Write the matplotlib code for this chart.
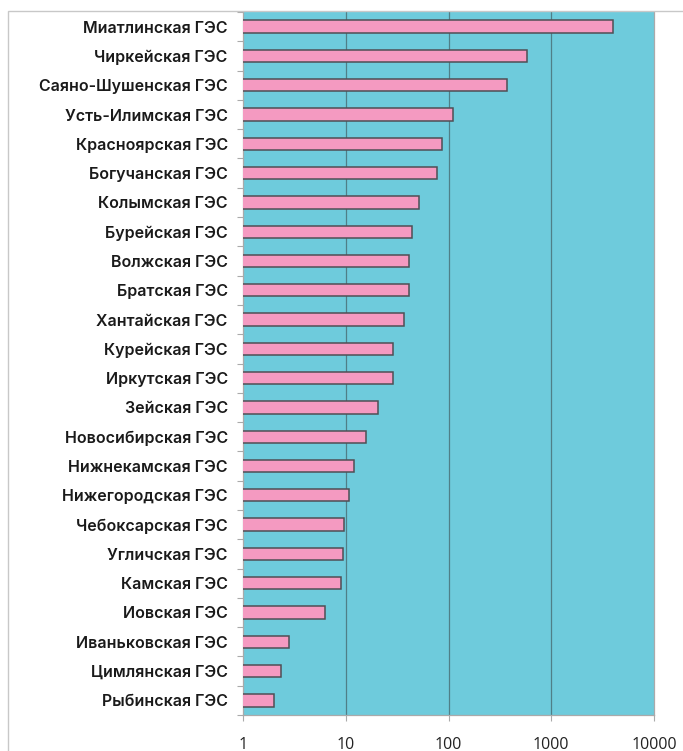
import matplotlib
matplotlib.use("Agg")
import matplotlib.pyplot as plt
import numpy as np
from matplotlib.patches import Rectangle

stations = [
    "Миатлинская ГЭС", "Чиркейская ГЭС", "Саяно-Шушенская ГЭС", "Усть-Илимская ГЭС",
    "Красноярская ГЭС", "Богучанская ГЭС", "Колымская ГЭС", "Бурейская ГЭС",
    "Волжская ГЭС", "Братская ГЭС", "Хантайская ГЭС", "Курейская ГЭС",
    "Иркутская ГЭС", "Зейская ГЭС", "Новосибирская ГЭС", "Нижнекамская ГЭС",
    "Нижегородская ГЭС", "Чебоксарская ГЭС", "Угличская ГЭС", "Камская ГЭС",
    "Иовская ГЭС", "Иваньковская ГЭС", "Цимлянская ГЭС", "Рыбинская ГЭС",
]
values = [4000, 577, 368, 111, 87, 77, 52, 44, 41, 41, 37, 28.6, 28.6, 20.5,
          15.6, 12.0, 10.7, 9.7, 9.5, 9.0, 6.3, 2.8, 2.34, 2.0]
xticks = [1, 10, 100, 1000, 10000]
xtick_labels = ["1", "10", "100", "1000", "10000"]

W, H = 683, 751
fig = plt.figure(figsize=(W / 100, H / 100), dpi=100)
fig.patch.set_facecolor("white")

# outer chart-area border
fig.add_artist(Rectangle((8 / W, -0.02), 1.2, 1 - 11 / H + 0.02,
                         transform=fig.transFigure, fill=False,
                         edgecolor="#c8c8c8", linewidth=1.0))

ax = fig.add_axes([243 / W, 1 - 715 / H, 411 / W, 703 / H])
ax.set_facecolor("#6ecbdc")
y = np.arange(len(stations))
ax.barh(y, values, height=0.42, left=0, color="#f49ac1",
        edgecolor="#4f4f55", linewidth=1.1, zorder=3)
ax.set_xscale("log")
ax.set_xlim(1, 10000)
ax.set_ylim(len(stations) - 0.5, -0.5)

ax.set_xticks(xticks)
ax.set_xticklabels(xtick_labels, fontsize=11.5, family="Open Sans", color="#222222")
ax.xaxis.set_minor_locator(matplotlib.ticker.NullLocator())
ax.tick_params(axis="x", which="major", length=4, width=0.8, color="#aaaaaa", pad=11.5)

ax.set_yticks(y)
ax.set_yticklabels(stations, fontsize=11.5, family="Inter",
                   fontweight="semibold", color="#1a1a1a")
ax.tick_params(axis="y", which="major", length=0, pad=11)
ax.set_yticks(np.arange(len(stations) + 1) - 0.5, minor=True)
ax.tick_params(axis="y", which="minor", length=4, width=0.8, color="#aaaaaa")

for xv in xticks[1:-1]:
    ax.axvline(xv, color="#4f7f88", linewidth=0.9, zorder=1)

for side in ["top", "right", "left", "bottom"]:
    ax.spines[side].set_color("#aaaaaa")
    ax.spines[side].set_linewidth(0.9)
ax.spines["top"].set_visible(False)

fig.savefig("out.png", dpi=100)
